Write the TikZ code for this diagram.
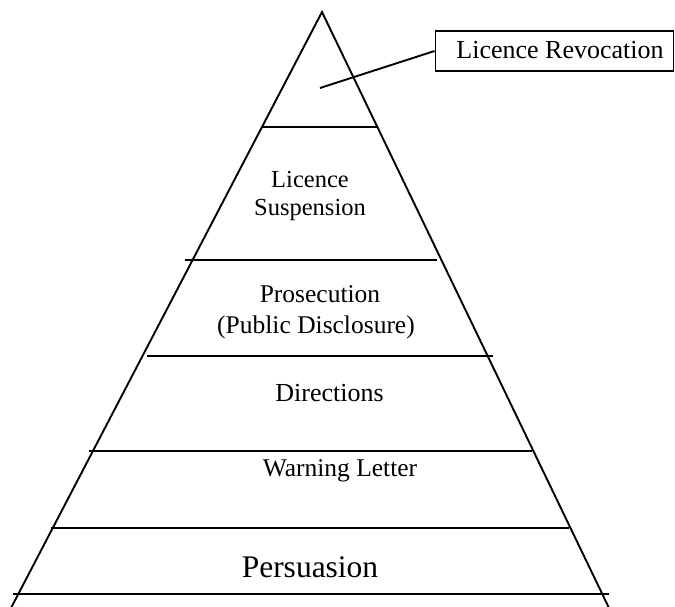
\documentclass[tikz,border=0pt]{standalone}
\usepackage{fontspec}
\setmainfont{Liberation Serif}
\begin{document}
\begin{tikzpicture}[x=1pt,y=-1pt,
  edge/.style={line width=1.9pt,line cap=butt},
  lbl/.style={anchor=base,inner sep=0pt,align=center},
  revbox/.style={draw,line width=1.9pt,minimum width=238pt,minimum height=40pt,inner sep=0pt}]
\useasboundingbox (0,0) rectangle (675,606);
% pyramid outline
\coordinate (apex) at (322,12);
\coordinate (bl) at (11,608);
\coordinate (br) at (609,608);
\draw[edge] (bl) -- (apex) -- (br);
% tier lines
\draw[edge] (262,127) -- (378,127);
\draw[edge] (185,260) -- (437,260);
\draw[edge] (147,356) -- (493,356);
\draw[edge] (89,451) -- (532,451);
\draw[edge] (51,528) -- (569,528);
\draw[edge] (13,594) -- (609,594);
% labels
\node[lbl,font=\fontsize{24.5}{28}\selectfont] (susp1) at (310,187) {Licence};
\node[lbl,font=\fontsize{24.5}{28}\selectfont] (susp2) at (310,215) {Suspension};
\node[lbl,font=\fontsize{25.5}{31}\selectfont] (pros1) at (320,302) {Prosecution};
\node[lbl,font=\fontsize{25.5}{31}\selectfont] (pros2) at (316,333) {(Public Disclosure)};
\node[lbl,font=\fontsize{26}{30}\selectfont] (dir) at (329.5,401) {Directions};
\node[lbl,font=\fontsize{25.5}{30}\selectfont] (warn) at (340,476) {Warning Letter};
\node[lbl,font=\fontsize{31.5}{36}\selectfont] (pers) at (310,577) {Persuasion};
% revocation callout
\node[revbox] (rev) at (554.5,51) {};
\node[lbl,font=\fontsize{26}{30}\selectfont] (revt) at (560,58) {Licence Revocation};
\coordinate (tip) at (320,88);
\draw[edge] (tip) -- (rev.west);
\end{tikzpicture}
\end{document}
